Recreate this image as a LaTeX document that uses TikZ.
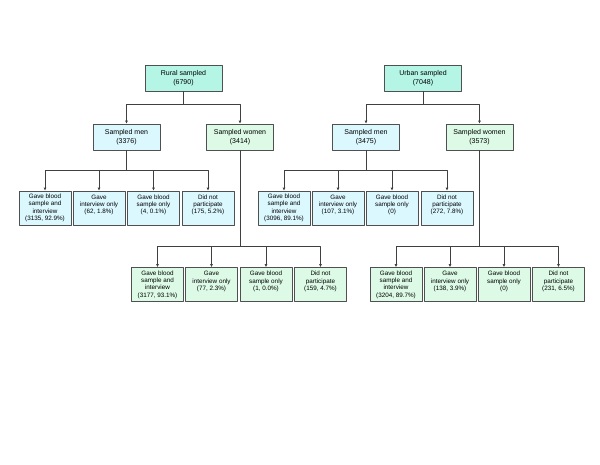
\documentclass[tikz,border=0pt]{standalone}
\usepackage{fontspec}
\setmainfont{Liberation Sans}
\usetikzlibrary{arrows.meta,shadows}
\definecolor{mauGoc}{HTML}{B4F5E6}
\definecolor{mauNam}{HTML}{DCF8FF}
\definecolor{mauNu}{HTML}{DCFAE6}
\definecolor{mauVien}{HTML}{505050}
\begin{document}
\begin{tikzpicture}[
	% Kiểu dáng chung cho các hộp
	hop/.style={draw=mauVien, line width=0.6pt, align=center, inner sep=0pt,
		drop shadow={shadow xshift=0.9pt, shadow yshift=-0.9pt, fill=black!30}},
	goc/.style={hop, fill=mauGoc, minimum width=77pt, minimum height=26pt, font=\fontsize{7}{8.6}\selectfont}, % hộp mẫu
	nam/.style={hop, fill=mauNam, minimum width=67pt, minimum height=26pt, font=\fontsize{7}{8.4}\selectfont}, % nam giới
	nu/.style={hop, fill=mauNu, minimum width=67pt, minimum height=26pt, font=\fontsize{7}{8.4}\selectfont}, % nữ giới
	la/.style={hop, minimum width=52pt, minimum height=34pt, font=\fontsize{6.3}{7.4}\selectfont}, % hộp kết quả
	duongnoi/.style={draw=black!75, line width=0.6pt, -{Latex[length=3pt,width=2.8pt]}}, % mũi tên
	x=1pt, y=-1pt, line join=round]
	\useasboundingbox (0,0) rectangle (600,464);

	% Hai hộp mẫu ở trên cùng
	\node[goc] (nongthon) at (183.5,78) {Rural sampled\\(6790)};
	\node[goc] (thanhthi) at (423,78) {Urban sampled\\(7048)};

	% Nam và nữ
	\node[nam] (ntNam) at (126.5,137) {Sampled men\\(3376)};
	\node[nu] (ntNu) at (240,137) {Sampled women\\(3414)};
	\node[nam] (ttNam) at (366,137) {Sampled men\\(3475)};
	\node[nu] (ttNu) at (479.5,137) {Sampled women\\(3573)};

	% Kết quả của nam, nông thôn
	\node[la, fill=mauNam] (ntNam1) at (45,208) {Gave blood\\sample and\\interview\\(3135, 92.9\%)};
	\node[la, fill=mauNam] (ntNam2) at (99,208) {Gave\\interview only\\(62, 1.8\%)\\~};
	\node[la, fill=mauNam] (ntNam3) at (153.5,208) {Gave blood\\sample only\\(4, 0.1\%)\\~};
	\node[la, fill=mauNam] (ntNam4) at (208,208) {Did not\\participate\\(175, 5.2\%)\\~};

	% Kết quả của nam, thành thị
	\node[la, fill=mauNam] (ttNam1) at (284,208) {Gave blood\\sample and\\interview\\(3096, 89.1\%)};
	\node[la, fill=mauNam] (ttNam2) at (338,208) {Gave\\interview only\\(107, 3.1\%)\\~};
	\node[la, fill=mauNam] (ttNam3) at (392,208) {Gave blood\\sample only\\(0)\\~};
	\node[la, fill=mauNam] (ttNam4) at (447,208) {Did not\\participate\\(272, 7.8\%)\\~};

	% Kết quả của nữ, nông thôn
	\node[la, fill=mauNu] (ntNu1) at (157.5,284.5) {Gave blood\\sample and\\interview\\(3177, 93.1\%)};
	\node[la, fill=mauNu] (ntNu2) at (211.5,284.5) {Gave\\interview only\\(77, 2.3\%)\\~};
	\node[la, fill=mauNu] (ntNu3) at (266,284.5) {Gave blood\\sample only\\(1, 0.0\%)\\~};
	\node[la, fill=mauNu] (ntNu4) at (320.5,284.5) {Did not\\participate\\(159, 4.7\%)\\~};

	% Kết quả của nữ, thành thị
	\node[la, fill=mauNu] (ttNu1) at (396,284.5) {Gave blood\\sample and\\interview\\(3204, 89.7\%)};
	\node[la, fill=mauNu] (ttNu2) at (450,284.5) {Gave\\interview only\\(138, 3.9\%)\\~};
	\node[la, fill=mauNu] (ttNu3) at (504,284.5) {Gave blood\\sample only\\(0)\\~};
	\node[la, fill=mauNu] (ttNu4) at (558.5,284.5) {Did not\\participate\\(231, 6.5\%)\\~};

	% Các đường nối
	\draw[duongnoi] (nongthon.south) -- ++(0,13) -| (ntNam.north);
	\draw[duongnoi] (nongthon.south) -- ++(0,13) -| (ntNu.north);
	\draw[duongnoi] (thanhthi.south) -- ++(0,13) -| (ttNam.north);
	\draw[duongnoi] (thanhthi.south) -- ++(0,13) -| (ttNu.north);
	\foreach \i in {1,...,4} {
		\draw[duongnoi] (ntNam.south) -- ++(0,20) -| (ntNam\i.north);
		\draw[duongnoi] (ttNam.south) -- ++(0,20) -| (ttNam\i.north);
		\draw[duongnoi] (ntNu.south) -- ++(0,96) -| (ntNu\i.north);
		\draw[duongnoi] (ttNu.south) -- ++(0,96) -| (ttNu\i.north);
	}
\end{tikzpicture}
\end{document}
